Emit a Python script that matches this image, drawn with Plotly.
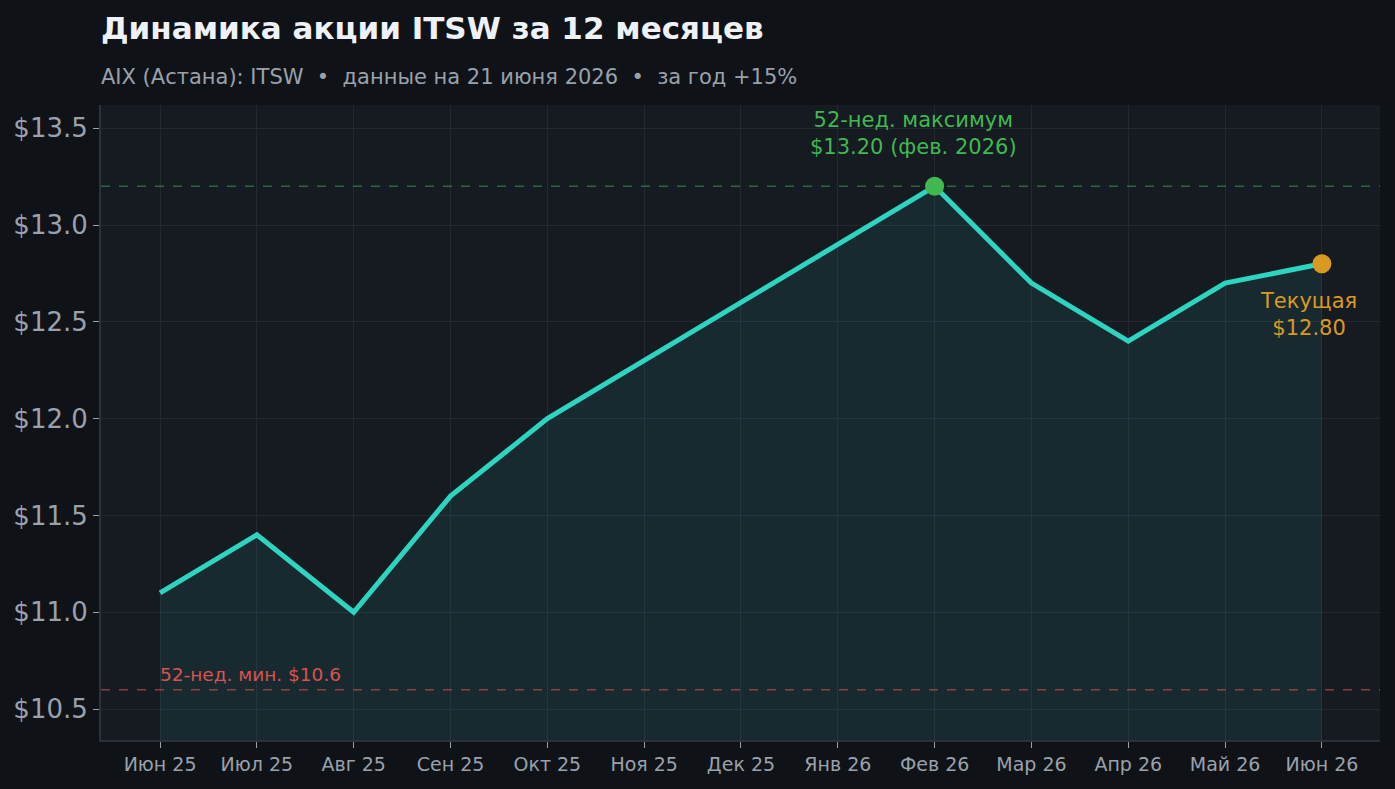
import plotly.graph_objects as go

# === DATOS
months = ["Июн 25", "Июл 25", "Авг 25", "Сен 25", "Окт 25", "Ноя 25", "Дек 25",
          "Янв 26", "Фев 26", "Мар 26", "Апр 26", "Май 26", "Июн 26"]
prices = [11.1, 11.4, 11.0, 11.6, 12.0, 12.3, 12.6, 12.9, 13.2, 12.7, 12.4, 12.7, 12.8]
high_52w = 13.2
low_52w = 10.6
y_ticks = [10.5, 11.0, 11.5, 12.0, 12.5, 13.0, 13.5]

FONT = "DejaVu Sans"
BG = "#0f1317"
x_idx = list(range(len(months)))
peak_i = prices.index(high_52w)
last_i = len(prices) - 1

fig = go.Figure()

fig.add_trace(go.Scatter(x=x_idx, y=prices, mode="lines", fill="tozeroy",
                         fillcolor="rgba(45,212,191,0.09)",
                         line=dict(color="#2dd4bf", width=5), hoverinfo="skip"))
fig.add_trace(go.Scatter(x=[peak_i], y=[prices[peak_i]], mode="markers",
                         marker=dict(color="#3fb950", size=19)))
fig.add_trace(go.Scatter(x=[last_i], y=[prices[last_i]], mode="markers",
                         marker=dict(color="#d99a22", size=19)))

fig.add_hline(y=high_52w, line=dict(color="rgba(63,185,80,0.5)", width=1.5, dash="dash"))
fig.add_hline(y=low_52w, line=dict(color="rgba(217,83,79,0.6)", width=1.5, dash="dash"))

fig.add_annotation(x=peak_i, y=high_52w, text="52-нед. максимум<br>$13.20 (фев. 2026)",
                   showarrow=False, yshift=53, xshift=-21,
                   font=dict(family=FONT, size=21, color="#3fb950"))
fig.add_annotation(x=last_i, y=prices[last_i], text="Текущая<br>$12.80",
                   showarrow=False, yshift=-51, xshift=-13,
                   font=dict(family=FONT, size=21, color="#d99a22"))
fig.add_annotation(x=0, y=low_52w, text="52-нед. мин. $10.6", xanchor="left",
                   showarrow=False, yshift=15, xshift=-2,
                   font=dict(family=FONT, size=18.5, color="#d9534f"))

fig.update_layout(
    width=1395, height=789,
    paper_bgcolor=BG, plot_bgcolor="#161a21",
    margin=dict(l=101, r=15, t=105, b=49),
    showlegend=False,
    font=dict(family=FONT, color="#9aa1ab"),
    title=dict(text="<b>Динамика акции ITSW за 12 месяцев</b>", x=101 / 1395, xanchor="left",
               y=1 - 28 / 789, yanchor="middle",
               font=dict(family=FONT, size=31, color="#eef1f5")),
)
fig.add_annotation(xref="paper", yref="paper", x=0, y=1 + (105 - 77) / 635, xanchor="left",
                   yanchor="middle", showarrow=False, xshift=-2,
                   text="AIX (Астана): ITSW  •  данные на 21 июня 2026  •  за год +15%",
                   font=dict(family=FONT, size=21, color="#9aa1ab"))

fig.update_xaxes(range=[-0.61, 12.6], tickmode="array", tickvals=x_idx, ticktext=months,
                 showgrid=True, gridcolor="#232832", gridwidth=1, zeroline=False,
                 showline=True, linecolor="#2b3039", linewidth=2,
                 ticks="outside", ticklen=6, tickcolor="#9aa1ab",
                 tickfont=dict(family=FONT, size=19, color="#9aa1ab"))
fig.update_yaxes(range=[10.34, 13.62], tickmode="array", tickvals=y_ticks,
                 ticktext=[f"${v:.1f}" for v in y_ticks],
                 showgrid=True, gridcolor="#232832", gridwidth=1, zeroline=False,
                 showline=True, linecolor="#2b3039", linewidth=2,
                 ticks="outside", ticklen=6, tickcolor="#9aa1ab",
                 tickfont=dict(family=FONT, size=26, color="#9aa1ab"))

fig.write_html("out.html", config={"displayModeBar": False},
               post_script=f"document.body.style.margin='0';document.body.style.background='{BG}';")
